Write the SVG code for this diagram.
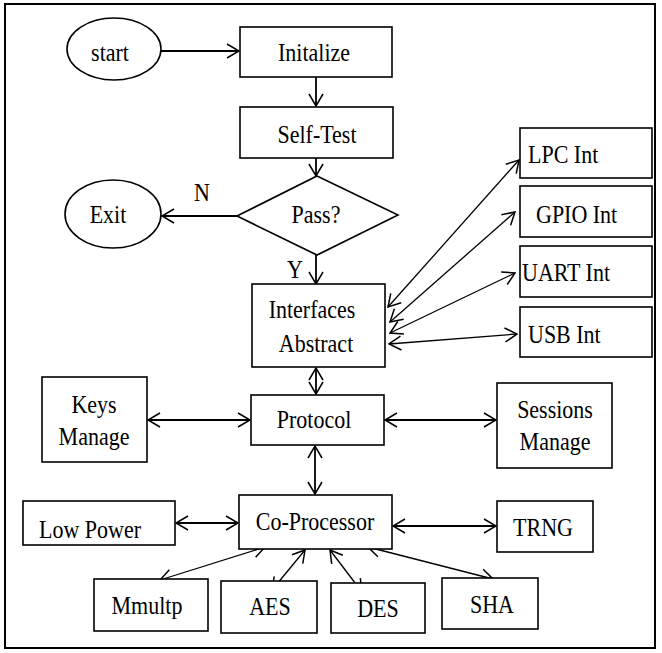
<svg xmlns="http://www.w3.org/2000/svg" width="662" height="653" viewBox="0 0 662 653">
<style>
.n{fill:#fff;stroke:#000;stroke-width:1.6}
.t{font-family:"Liberation Serif",Tinos,"Noto Serif","DejaVu Serif",FreeSerif,"Times New Roman",Times,serif;font-size:25px;fill:#000;text-anchor:middle}
.s{text-anchor:start}
.c{fill:none;stroke:#000;stroke-width:1.3}
.b{stroke-width:1.8}
</style>
<defs>
<marker id="a" viewBox="0 0 14 16" refX="13" refY="8" markerWidth="14" markerHeight="16" markerUnits="userSpaceOnUse" orient="auto-start-reverse">
<path d="M1,1 L13,8 L1,15" fill="none" stroke="#000" stroke-width="1.5"/>
</marker>
</defs>
<rect x="5" y="4" width="650" height="644" fill="#fff" stroke="#000" stroke-width="2"/>
<g id="connectors">
<line class="c b" x1="161" y1="51" x2="239" y2="51" marker-end="url(#a)"/>
<line class="c b" x1="316" y1="77" x2="316" y2="106" marker-end="url(#a)"/>
<line class="c b" x1="316" y1="158" x2="316" y2="176" marker-end="url(#a)"/>
<line class="c b" x1="237" y1="216" x2="162" y2="216" marker-end="url(#a)"/>
<line class="c b" x1="316" y1="255" x2="316" y2="284" marker-end="url(#a)"/>
<line class="c" x1="519" y1="160" x2="388" y2="307" marker-start="url(#a)" marker-end="url(#a)"/>
<line class="c" x1="515" y1="212" x2="390" y2="322" marker-start="url(#a)" marker-end="url(#a)"/>
<line class="c" x1="515" y1="273" x2="390" y2="333" marker-start="url(#a)" marker-end="url(#a)"/>
<line class="c" x1="517" y1="334" x2="389" y2="344" marker-start="url(#a)" marker-end="url(#a)"/>
<line class="c b" x1="316" y1="368" x2="316" y2="394" marker-start="url(#a)" marker-end="url(#a)"/>
<line class="c b" x1="148" y1="420" x2="250" y2="420" marker-start="url(#a)" marker-end="url(#a)"/>
<line class="c b" x1="385" y1="420" x2="496" y2="420" marker-start="url(#a)" marker-end="url(#a)"/>
<line class="c b" x1="315" y1="446" x2="315" y2="494" marker-start="url(#a)" marker-end="url(#a)"/>
<line class="c b" x1="176" y1="523" x2="238" y2="523" marker-start="url(#a)" marker-end="url(#a)"/>
<line class="c b" x1="393" y1="526" x2="496" y2="526" marker-start="url(#a)" marker-end="url(#a)"/>
<line class="c" x1="160" y1="580" x2="265" y2="547" marker-start="url(#a)" marker-end="url(#a)"/>
<line class="c" x1="272" y1="590" x2="305" y2="550" marker-start="url(#a)" marker-end="url(#a)"/>
<line class="c" x1="330" y1="550" x2="362" y2="592" marker-start="url(#a)" marker-end="url(#a)"/>
<line class="c" x1="368" y1="547" x2="493" y2="579" marker-start="url(#a)" marker-end="url(#a)"/>
</g>
<g id="start"><ellipse class="n" cx="114" cy="49" rx="47" ry="31"/><text class="t" transform="translate(110,61) scale(0.88,1)">start</text></g>
<g id="initalize"><rect class="n" x="240" y="27" width="152" height="50"/><text class="t" transform="translate(314,61) scale(0.88,1)">Initalize</text></g>
<g id="selftest"><rect class="n" x="240" y="107" width="153" height="51"/><text class="t" transform="translate(317,143) scale(0.88,1)">Self-Test</text></g>
<g id="pass"><polygon class="n" points="317,176 398,215 317,255 237,216"/><text class="t" transform="translate(316,223) scale(0.88,1)">Pass?</text></g>
<g id="exit"><ellipse class="n" cx="113" cy="214" rx="48" ry="34"/><text class="t" transform="translate(108,223) scale(0.88,1)">Exit</text></g>
<g id="labels"><text class="t" transform="translate(202,201) scale(0.88,1)">N</text><text class="t" transform="translate(295,278) scale(0.88,1)">Y</text></g>
<g id="interfaces"><rect class="n" x="252" y="284" width="133" height="83"/><text class="t" transform="translate(312,318) scale(0.88,1)">Interfaces</text><text class="t" transform="translate(316,352) scale(0.88,1)">Abstract</text></g>
<g id="lpc"><rect class="n" x="520" y="128" width="132" height="50"/><text class="t s" transform="translate(528,163) scale(0.88,1)">LPC Int</text></g>
<g id="gpio"><rect class="n" x="520" y="186" width="132" height="51"/><text class="t s" transform="translate(536,223) scale(0.88,1)">GPIO Int</text></g>
<g id="uart"><rect class="n" x="520" y="246" width="132" height="51"/><text class="t s" transform="translate(522,281) scale(0.88,1)">UART Int</text></g>
<g id="usb"><rect class="n" x="520" y="307" width="132" height="50"/><text class="t s" transform="translate(528,343) scale(0.88,1)">USB Int</text></g>
<g id="keys"><rect class="n" x="42" y="377" width="105" height="85"/><text class="t" transform="translate(94,413) scale(0.88,1)">Keys</text><text class="t" transform="translate(94,445) scale(0.88,1)">Manage</text></g>
<g id="protocol"><rect class="n" x="251" y="395" width="133" height="50"/><text class="t" transform="translate(314,428) scale(0.88,1)">Protocol</text></g>
<g id="sessions"><rect class="n" x="497" y="383" width="115" height="85"/><text class="t" transform="translate(555,418) scale(0.88,1)">Sessions</text><text class="t" transform="translate(555,450) scale(0.88,1)">Manage</text></g>
<g id="coprocessor"><rect class="n" x="239" y="495" width="153" height="54"/><text class="t" transform="translate(315,530) scale(0.88,1)">Co-Processor</text></g>
<g id="lowpower"><rect class="n" x="23" y="501" width="152" height="44"/><text class="t" transform="translate(90,538) scale(0.88,1)">Low Power</text></g>
<g id="trng"><rect class="n" x="497" y="501" width="96" height="51"/><text class="t" transform="translate(543,536) scale(0.88,1)">TRNG</text></g>
<g id="mmultp"><rect class="n" x="94" y="579" width="114" height="52"/><text class="t" transform="translate(147,614) scale(0.88,1)">Mmultp</text></g>
<g id="aes"><rect class="n" x="221" y="581" width="96" height="52"/><text class="t" transform="translate(270,615) scale(0.88,1)">AES</text></g>
<g id="des"><rect class="n" x="331" y="583" width="94" height="50"/><text class="t" transform="translate(378,617) scale(0.88,1)">DES</text></g>
<g id="sha"><rect class="n" x="442" y="578" width="96" height="51"/><text class="t" transform="translate(492,613) scale(0.88,1)">SHA</text></g>
</svg>
